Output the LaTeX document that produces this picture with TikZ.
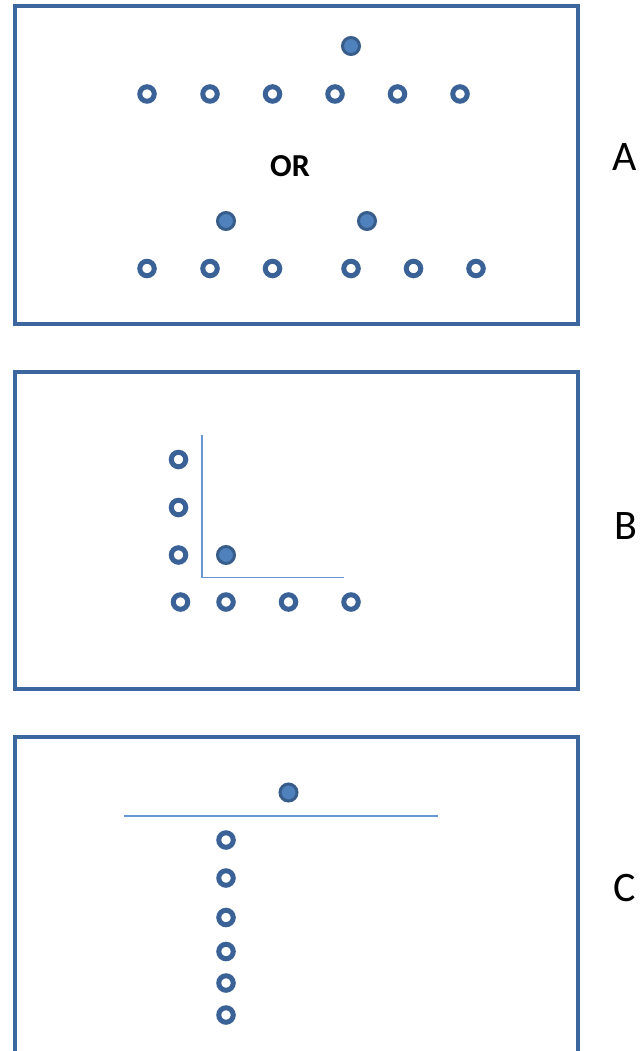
\documentclass[tikz,border=0pt]{standalone}
\usepackage{fontspec}
\setmainfont{Carlito}
\usetikzlibrary{positioning}
\definecolor{framecolor}{RGB}{60,103,158}
\definecolor{ringcolor}{RGB}{58,98,150}
\definecolor{dotfill}{RGB}{79,129,189}
\definecolor{dotedge}{RGB}{56,93,138}
\definecolor{guidecolor}{RGB}{105,150,212}

\begin{document}
\begin{tikzpicture}[
    x=1pt, y=-1pt,
    panel/.style={draw=framecolor, line width=4pt},
    openpt/.style={circle, draw=ringcolor, line width=5pt, minimum size=14.5pt, inner sep=0pt},
    solidpt/.style={circle, draw=dotedge, fill=dotfill, line width=3pt, minimum size=17pt, inner sep=0pt},
    guide/.style={draw=guidecolor, line width=1.6pt},
    tag/.style={font=\fontsize{42}{48}\selectfont, inner sep=0pt},
    ortext/.style={font=\bfseries\fontsize{32}{38}\selectfont, inner sep=0pt}
]
    \clip (0,0) rectangle (642,1051);

    % Panels
    \draw[panel] (14.5,6.5) rectangle (578,324);
    \draw[panel] (14.5,372) rectangle (578,689);
    \draw[panel] (14.5,737) rectangle (578,1070);

    % Panel tags
    \node[tag] (tagA) at (625,157) {A};
    \node[tag] (tagB) at (626,526) {B};
    \node[tag] (tagC) at (625,888) {C};

    % Panel A: first arrangement
    \node[solidpt] (atop) at (351,46) {};
    \node[openpt] (a1) at (147,94) {};
    \node[openpt] (a2) at (210,94) {};
    \node[openpt] (a3) at (272.5,94) {};
    \node[openpt] (a4) at (335,94) {};
    \node[openpt] (a5) at (397.5,94) {};
    \node[openpt] (a6) at (460,94) {};

    \node[ortext] (or) at (290,166) {OR};

    % Panel A: second arrangement
    \node[solidpt] (bleft) at (226,221) {};
    \node[solidpt] (bright) at (367,221) {};
    \node[openpt] (b1) at (147,268.5) {};
    \node[openpt] (b2) at (210,268.5) {};
    \node[openpt] (b3) at (272.5,268.5) {};
    \node[openpt] (b4) at (351,268.5) {};
    \node[openpt] (b5) at (413.5,268.5) {};
    \node[openpt] (b6) at (476,268.5) {};

    % Panel B: corner
    \coordinate (cornertop) at (202,435);
    \coordinate (corner) at (202,577.5);
    \coordinate (cornerend) at (343.5,577.5);
    \draw[guide] (cornertop) -- (corner) -- (cornerend);

    \node[openpt] (l1) at (178.5,459.5) {};
    \node[openpt] (l2) at (178.5,507.5) {};
    \node[openpt] (l3) at (178.5,555) {};
    \node[solidpt] (lin) at (226,555) {};
    \node[openpt] (r1) at (180.5,602) {};
    \node[openpt] (r2) at (226,602) {};
    \node[openpt] (r3) at (288.5,602) {};
    \node[openpt] (r4) at (351,602) {};

    % Panel C: bar
    \coordinate (barleft) at (123.5,816);
    \coordinate (barright) at (437.5,816);
    \draw[guide] (barleft) -- (barright);

    \node[solidpt] (ctop) at (288.5,792.5) {};
    \node[openpt] (c1) at (226,840) {};
    \node[openpt] (c2) at (226,878) {};
    \node[openpt] (c3) at (226,917.5) {};
    \node[openpt] (c4) at (226,951.5) {};
    \node[openpt] (c5) at (226,983) {};
    \node[openpt] (c6) at (226,1015) {};

\end{tikzpicture}
\end{document}
